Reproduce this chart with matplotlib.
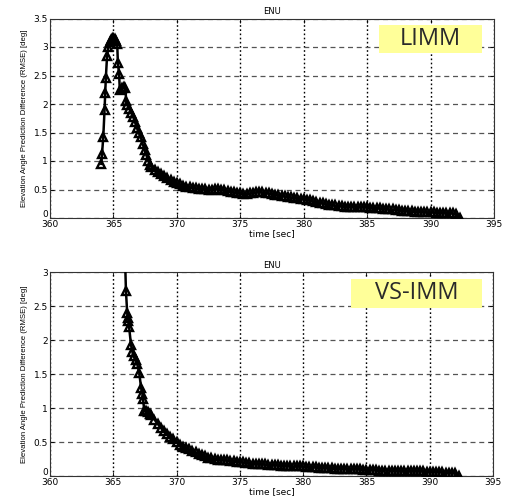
import numpy as np
import matplotlib
matplotlib.use("Agg")
import matplotlib.pyplot as plt
import matplotlib.transforms as mtransforms
from matplotlib.patches import Rectangle

# ---------------- data ----------------
limm_t_early = [364.05, 364.1, 364.2, 364.3, 364.35, 364.4, 364.5, 364.6, 364.7, 364.8,
                364.9, 365.0, 365.1, 365.2, 365.3, 365.35, 365.45, 365.5, 365.65, 365.8,
                365.95, 366.0, 366.1, 366.25, 366.4, 366.55, 366.7, 366.85, 367.0, 367.15,
                367.3, 367.45, 367.6, 367.75, 367.9]
limm_v_early = [0.95, 1.12, 1.42, 1.9, 2.2, 2.45, 2.85, 3.0, 3.08, 3.12,
                3.14, 3.16, 3.14, 3.1, 3.05, 2.72, 2.52, 2.25, 2.28, 2.3,
                2.28, 2.05, 1.98, 1.92, 1.85, 1.78, 1.68, 1.58, 1.49, 1.42,
                1.3, 1.2, 1.1, 1.0, 0.93]

late_t = np.arange(368.0, 392.01, 0.25)
limm_v_late = [0.89, 0.85, 0.81, 0.77, 0.73, 0.70, 0.67, 0.64, 0.61, 0.59,
               0.57, 0.55, 0.54, 0.53, 0.52, 0.51, 0.51, 0.51, 0.50, 0.50,
               0.51, 0.51, 0.50, 0.49, 0.47, 0.46, 0.45, 0.44, 0.43, 0.42,
               0.42, 0.43, 0.44, 0.45, 0.46, 0.45, 0.44, 0.43, 0.42, 0.41,
               0.40, 0.39, 0.38, 0.37, 0.36, 0.35, 0.35, 0.34, 0.33, 0.32,
               0.31, 0.29, 0.28, 0.27, 0.26, 0.24, 0.23, 0.22, 0.22, 0.21,
               0.21, 0.20, 0.20, 0.20, 0.20, 0.19, 0.19, 0.19, 0.19, 0.18,
               0.18, 0.17, 0.17, 0.16, 0.16, 0.15, 0.15, 0.14, 0.14, 0.13,
               0.13, 0.12, 0.12, 0.11, 0.11, 0.11, 0.10, 0.10, 0.10, 0.10,
               0.09, 0.09, 0.09, 0.09, 0.09, 0.08, 0.07]
limm_t_end = [392.3]
limm_v_end = [0.0]

vs_t_early = [365.9, 366.0, 366.1, 366.15, 366.2, 366.25, 366.4, 366.5, 366.6, 366.8,
              366.9, 367.05, 367.2, 367.3, 367.35, 367.45, 367.6, 367.75, 367.9]
vs_v_early = [3.4, 2.72, 2.40, 2.33, 2.28, 2.19, 1.93, 1.83, 1.76, 1.70,
              1.64, 1.52, 1.29, 1.21, 1.13, 0.96, 0.95, 0.94, 0.91]
vs_v_late = [0.89, 0.83, 0.77, 0.71, 0.66, 0.62, 0.58, 0.54, 0.50, 0.46,
             0.43, 0.41, 0.39, 0.37, 0.35, 0.33, 0.31, 0.29, 0.27, 0.26,
             0.25, 0.24, 0.24, 0.23, 0.23, 0.22, 0.22, 0.21, 0.21, 0.20,
             0.19, 0.19, 0.18, 0.18, 0.17, 0.17, 0.17, 0.16, 0.16, 0.16,
             0.16, 0.15, 0.15, 0.15, 0.15, 0.14, 0.14, 0.14, 0.14, 0.13,
             0.13, 0.13, 0.13, 0.12, 0.12, 0.12, 0.12, 0.12, 0.11, 0.11,
             0.11, 0.11, 0.10, 0.10, 0.10, 0.10, 0.10, 0.09, 0.09, 0.09,
             0.09, 0.09, 0.08, 0.08, 0.08, 0.08, 0.08, 0.08, 0.07, 0.07,
             0.07, 0.07, 0.07, 0.07, 0.07, 0.07, 0.07, 0.06, 0.06, 0.06,
             0.06, 0.06, 0.06, 0.05, 0.05, 0.05, 0.05]
vs_t_end = [392.3]
vs_v_end = [0.0]

x_ticks = [360, 365, 370, 375, 380, 385, 390, 395]
top_y_ticks = [0, 0.5, 1, 1.5, 2, 2.5, 3, 3.5]
bot_y_ticks = [0, 0.5, 1, 1.5, 2, 2.5, 3]

limm_t = list(limm_t_early) + list(late_t) + limm_t_end
limm_v = limm_v_early + limm_v_late + limm_v_end
vs_t = list(vs_t_early) + list(late_t) + vs_t_end
vs_v = vs_v_early + vs_v_late + vs_v_end

# ---------------- figure ----------------
fig = plt.figure(figsize=(5.05, 4.97), dpi=100)
ax1 = fig.add_axes([50/505, 1-218/497, 444/505, 199.5/497])
ax2 = fig.add_axes([50/505, 1-476/497, 443/505, 204/497])

label_font = ['Liberation Sans', 'DejaVu Sans']

def style(ax, yticks, ylim, title, tag, box):
    ax.set_xlim(360, 395)
    ax.set_ylim(*ylim)
    ax.set_xticks(x_ticks)
    ax.set_yticks(yticks)
    ax.set_xticklabels([str(v) for v in x_ticks], fontsize=6.5)
    ax.set_yticklabels([('%g' % v) for v in yticks], fontsize=6.5)
    ax.tick_params(direction='in', length=3, width=0.6, top=True, right=True, pad=1.5)
    # raise the "0" label slightly, as in the reference
    lbl0 = ax.get_yticklabels()[0]
    lbl0.set_transform(lbl0.get_transform() +
                       mtransforms.ScaledTranslation(0, 3/72, fig.dpi_scale_trans))
    ax.xaxis.grid(True, linestyle=(0, (1.2, 1.8)), color='black', linewidth=1.0)
    ax.yaxis.grid(True, linestyle=(0, (4, 3)), color='#555555', linewidth=0.9)
    ax.set_axisbelow(True)
    for s in ax.spines.values():
        s.set_linewidth(0.8)
        s.set_color('#333333')
    ax.set_title(title, fontsize=6, pad=3)
    ax.set_xlabel('time [sec]', fontsize=6.5, labelpad=0)
    ax.set_ylabel('Elevation Angle Prediction Difference (RMSE) [deg]', fontsize=5.6,
                  family=label_font, labelpad=4)
    x0, x1, y0, y1 = box
    ax.add_patch(Rectangle((x0, y0), x1 - x0, y1 - y0, transform=ax.transAxes,
                           facecolor='#ffff99', edgecolor='none', zorder=5))
    ax.text((x0 + x1) / 2, (y0 + y1) / 2, tag, transform=ax.transAxes, fontsize=17,
            color='#2a2a2a', ha='center', va='center',
            family=['Open Sans', 'DejaVu Sans'], zorder=6)

ax1.plot(limm_t, limm_v, color='black', linewidth=1.8, marker='^', markersize=6,
         markerfacecolor='none', markeredgecolor='black', markeredgewidth=1.7, zorder=3)
ax2.plot(vs_t, vs_v, color='black', linewidth=1.8, marker='^', markersize=6,
         markerfacecolor='none', markeredgecolor='black', markeredgewidth=1.7, zorder=3)

style(ax1, top_y_ticks, (0, 3.5), 'ENU', 'LIMM', (0.741, 0.973, 0.827, 0.967))
style(ax2, bot_y_ticks, (0, 3), 'ENU', 'VS-IMM', (0.679, 0.975, 0.824, 0.966))

fig.savefig('out.png', dpi=100)
